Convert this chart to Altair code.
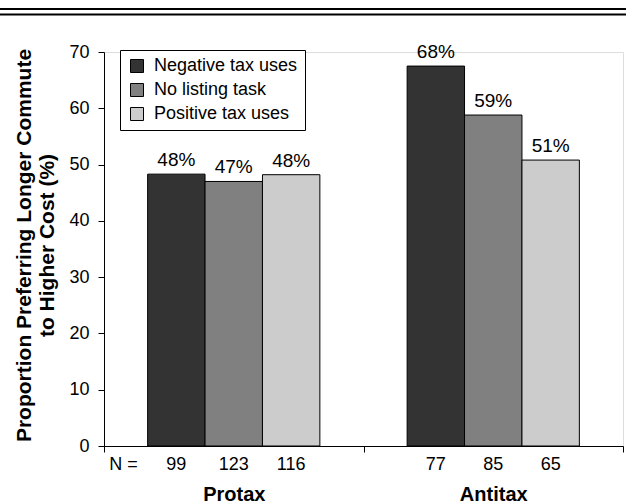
import altair as alt
import pandas as pd

groups = ["Protax", "Protax", "Protax", "Antitax", "Antitax", "Antitax"]
conditions = ["Negative tax uses", "No listing task", "Positive tax uses"] * 2
values = [48.3, 47.0, 48.2, 67.5, 58.8, 50.8]
labels = ["48%", "47%", "48%", "68%", "59%", "51%"]
ns = ["99", "123", "116", "77", "85", "65"]

group_order = ["Protax", "Antitax"]
cond_order = ["Negative tax uses", "No listing task", "Positive tax uses"]
colors = ["#333333", "#808080", "#cccccc"]
y_ticks = [0, 10, 20, 30, 40, 50, 60, 70]

df = pd.DataFrame({"group": groups, "cond": conditions, "value": values,
                   "label": labels, "n": ns})

FONT = "Liberation Sans"
W, H = 519, 394

x_enc = alt.X("group:N", sort=group_order, title=None,
              scale=alt.Scale(paddingInner=0, paddingOuter=0),
              axis=alt.Axis(tickBand="extent", tickSize=6, labelFontSize=20,
                            labelFontWeight="bold", labelPadding=32,
                            labelAngle=0, domainColor="black", tickColor="black",
                            labelColor="black", labelFont=FONT))
xo_enc = alt.XOffset("cond:N", sort=cond_order,
                     scale=alt.Scale(paddingOuter=0.76, paddingInner=0))
y_enc = alt.Y("value:Q", scale=alt.Scale(domain=[0, 70], nice=False),
              title=["Proportion Preferring Longer Commute", "to Higher Cost (%)"],
              axis=alt.Axis(values=y_ticks, tickSize=6, labelFontSize=18,
                            labelPadding=9, grid=False, domainColor="black",
                            tickColor="black", labelColor="black", labelFont=FONT,
                            titleFont=FONT, titleFontSize=21, titleFontWeight="bold",
                            titleColor="black", titleAngle=270, titleX=-73.5,
                            titleY=193, titleAlign="center",
                            titleBaseline="alphabetic", titleLineHeight=23))

base = alt.Chart(df)

bars = base.mark_bar(stroke="black", strokeWidth=1).encode(
    x=x_enc, xOffset=xo_enc, y=y_enc,
    color=alt.Color("cond:N", sort=cond_order,
                    scale=alt.Scale(domain=cond_order, range=colors),
                    legend=alt.Legend(title=None, orient="none", legendX=16,
                                      legendY=-2, symbolType="square",
                                      symbolSize=169, symbolStrokeColor="black",
                                      symbolStrokeWidth=1, symbolOpacity=1,
                                      labelFontSize=18, labelFont=FONT,
                                      labelColor="black", labelOffset=8,
                                      rowPadding=6, padding=7, symbolOffset=1,
                                      strokeColor="black", fillColor="white")),
)

pct = base.mark_text(dy=-8, baseline="alphabetic", fontSize=19, font=FONT,
                     color="black").encode(
    x=alt.X("group:N", sort=group_order), xOffset=xo_enc,
    y="value:Q", text="label:N")

ntext = base.mark_text(baseline="middle", fontSize=18, font=FONT,
                       color="black").encode(
    x=alt.X("group:N", sort=group_order), xOffset=xo_enc,
    y=alt.value(H + 19), text="n:N")

one = pd.DataFrame({"t": ["N ="]})
nlabel = alt.Chart(one).mark_text(baseline="middle", fontSize=18, font=FONT,
                                  color="black").encode(
    x=alt.value(19.5), y=alt.value(H + 19), text="t:N")

rule1 = alt.Chart(one).mark_rule(color="black", strokeWidth=2).encode(
    x=alt.value(-104), x2=alt.value(W + 3), y=alt.value(-43))
rule2 = alt.Chart(one).mark_rule(color="black", strokeWidth=2).encode(
    x=alt.value(-104), x2=alt.value(W + 3), y=alt.value(-37.5))

chart = alt.layer(bars, pct, ntext, nlabel, rule1, rule2).properties(
    width=W, height=H,
    autosize=alt.AutoSizeParams(type="none"),
    padding={"left": 104, "top": 52, "right": 3, "bottom": 58},
).configure_view(stroke=None).configure(background="white")

chart.save("out.html", embed_options={"renderer": "svg", "actions": False})
